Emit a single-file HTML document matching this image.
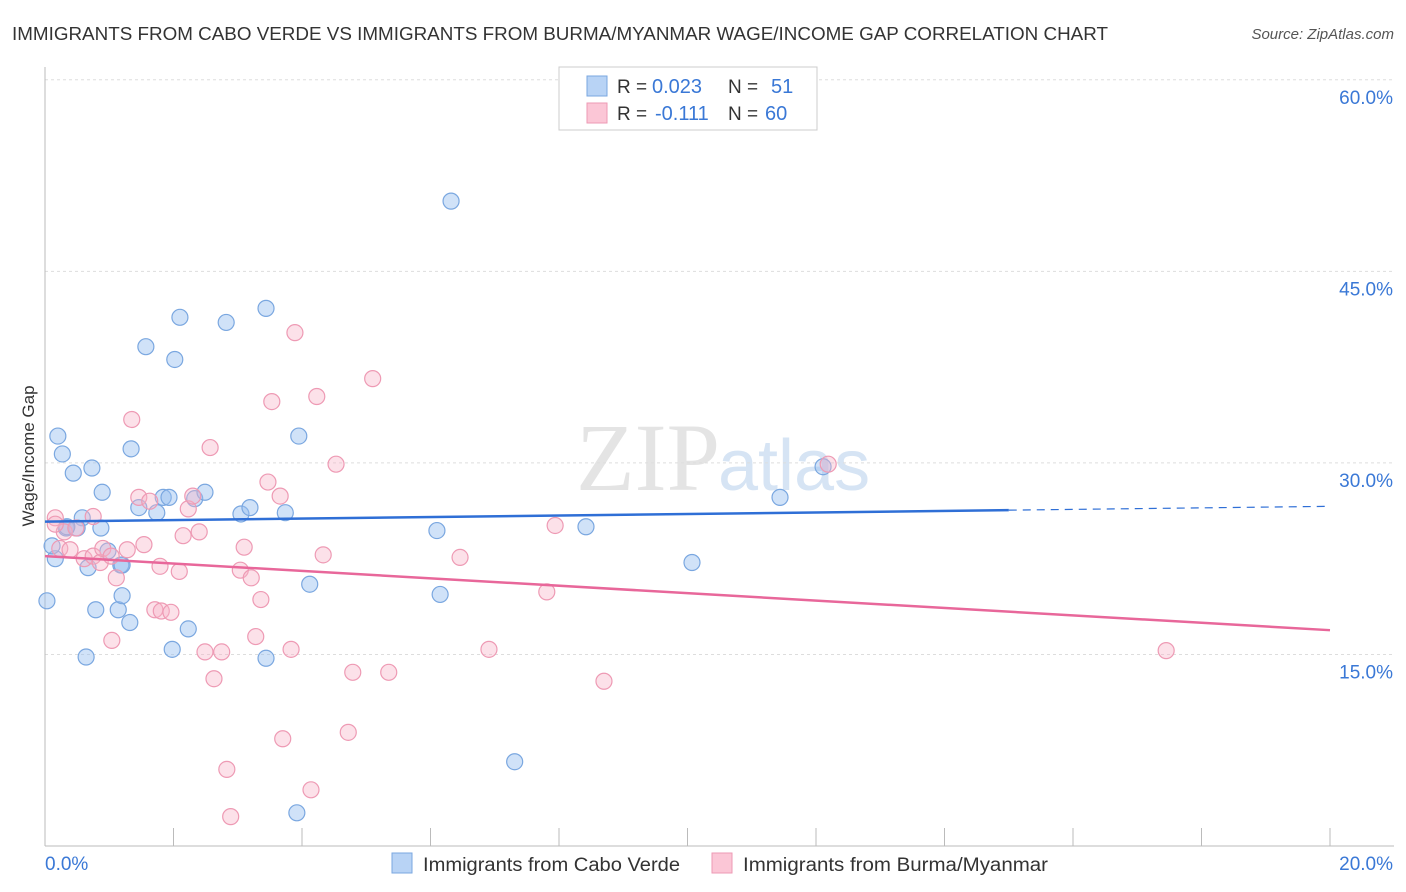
<!DOCTYPE html>
<html><head><meta charset="utf-8"><style>
body{margin:0;background:#fff;font-family:"Liberation Sans",sans-serif;}
svg{display:block}
</style></head><body>
<svg width="1406" height="892">
<text x="12" y="40" font-size="18" fill="#333" textLength="1096" lengthAdjust="spacingAndGlyphs">IMMIGRANTS FROM CABO VERDE VS IMMIGRANTS FROM BURMA/MYANMAR WAGE/INCOME GAP CORRELATION CHART</text>
<text x="1394" y="39" font-size="15" fill="#555" font-style="italic" text-anchor="end">Source: ZipAtlas.com</text>
<text x="720" y="490" font-size="96" fill="#e4e4e4" text-anchor="end" font-family="Liberation Serif">ZIP</text>
<text x="718" y="490" font-size="72" fill="#d6e4f4">atlas</text>
<g id="grid"></g><g id="axes"></g><g id="pts"></g><g id="lines"></g>
<text transform="translate(34,456) rotate(-90)" font-size="17" fill="#333" text-anchor="middle">Wage/Income Gap</text>
<g>
<rect x="559" y="67" width="258" height="63" fill="#fff" stroke="#ccc"/>
<rect x="587" y="76" width="20" height="20" fill="#b8d3f5" stroke="#7aa7e0"/>
<rect x="587" y="103" width="20" height="20" fill="#fbc6d6" stroke="#ee9ab4"/>
<text x="617" y="93" font-size="19" fill="#333">R =</text>
<text x="652" y="93" font-size="20" fill="#3a78d6">0.023</text>
<text x="728" y="93" font-size="19" fill="#333">N =</text>
<text x="771" y="93" font-size="20" fill="#3a78d6">51</text>
<text x="617" y="120" font-size="19" fill="#333">R =</text>
<text x="655" y="120" font-size="20" fill="#3a78d6">-0.111</text>
<text x="728" y="120" font-size="19" fill="#333">N =</text>
<text x="765" y="120" font-size="20" fill="#3a78d6">60</text>
</g>
<g>
<rect x="392" y="853" width="20" height="20" fill="#b8d3f5" stroke="#7aa7e0"/>
<text x="423" y="871" font-size="19" fill="#333" textLength="257" lengthAdjust="spacingAndGlyphs">Immigrants from Cabo Verde</text>
<rect x="712" y="853" width="20" height="20" fill="#fbc6d6" stroke="#ee9ab4"/>
<text x="743" y="871" font-size="19" fill="#333" textLength="305" lengthAdjust="spacingAndGlyphs">Immigrants from Burma/Myanmar</text>
</g>
</svg>
<script>
const blueX=[0.03,0.16,0.11,0.2,0.27,0.44,0.58,0.73,0.89,0.87,0.67,0.79,0.64,0.5,0.33,1.14,1.2,1.32,1.18,1.34,1.46,1.57,1.74,1.84,1.93,2.02,2.1,1.98,2.23,2.33,2.49,2.82,3.05,3.19,3.44,3.44,3.74,3.95,3.92,4.12,6.1,6.15,6.32,7.31,8.42,10.07,11.44,12.11,0.34,0.98,1.2];
const blueY=[19.2,22.5,23.5,32.1,30.7,29.2,25.7,29.6,27.7,24.9,21.8,18.5,14.8,24.9,24.9,18.5,19.6,17.5,22.0,31.1,26.5,39.1,26.1,27.3,27.3,38.1,41.4,15.4,17.0,27.2,27.7,41.0,26.0,26.5,42.1,14.7,26.1,32.1,2.6,20.5,24.7,19.7,50.5,6.6,25.0,22.2,27.3,29.7,25.0,23.1,22.0];
const pinkX=[0.16,0.23,0.3,0.39,0.48,0.61,0.75,0.86,0.9,1.03,1.11,1.04,1.28,1.35,1.46,1.54,1.63,1.71,1.79,1.81,1.96,2.09,2.15,2.23,2.3,2.4,2.57,2.49,2.63,2.75,2.83,2.89,3.04,3.1,3.21,3.28,3.36,3.53,3.47,3.66,3.7,3.83,3.89,4.14,4.23,4.33,4.53,4.72,4.79,5.1,5.35,6.46,6.91,7.81,7.94,8.7,12.19,17.45,0.16,0.75];
const pinkY=[25.7,23.3,24.6,23.2,24.9,22.5,22.7,22.2,23.3,22.7,21.0,16.1,23.2,33.4,27.3,23.6,27.0,18.5,21.9,18.4,18.3,21.5,24.3,26.4,27.4,24.6,31.2,15.2,13.1,15.2,6.0,2.3,21.6,23.4,21.0,16.4,19.3,34.8,28.5,27.4,8.4,15.4,40.2,4.4,35.2,22.8,29.9,8.9,13.6,36.6,13.6,22.6,15.4,19.9,25.1,12.9,29.9,15.3,25.2,25.8];
const yTicks=[15,30,45,60];
const ns="http://www.w3.org/2000/svg";
const X=v=>45+v*64.25, Y=v=>846-v*12.77;
function mk(p,t,a){const e=document.createElementNS(ns,t);for(const k in a)e.setAttribute(k,a[k]);document.getElementById(p).appendChild(e);return e;}
yTicks.forEach(t=>{
 const l=mk('grid','line',{x1:45,x2:1394,y1:Y(t),y2:Y(t),stroke:'#ddd','stroke-dasharray':'3,3'});
 
 
 const tx=mk('axes','text',{x:1393,y:Y(t)+24,'font-size':19,fill:'#3a78d6','text-anchor':'end'});
 tx.textContent=t.toFixed(1)+'%';
 
 
});
mk('axes','line',{x1:45,x2:45,y1:67,y2:846,stroke:'#bbb'});
mk('axes','line',{x1:45,x2:1394,y1:846,y2:846,stroke:'#bbb'});
for(let i=0;i<=10;i++){mk('axes','line',{x1:X(i*2),x2:X(i*2),y1:828,y2:846,stroke:'#bbb'});}
let t0=mk('axes','text',{x:45,y:870,'font-size':19,fill:'#3a78d6'});t0.textContent='0.0%';


let t1=mk('axes','text',{x:1393,y:870,'font-size':19,fill:'#3a78d6','text-anchor':'end'});t1.textContent='20.0%';


blueX.forEach((x,i)=>{const c=mk('pts','circle',{cx:X(x),cy:Y(blueY[i]),r:8,fill:'rgba(150,190,240,0.45)',stroke:'#7aa7e0','stroke-width':1.2});

});
pinkX.forEach((x,i)=>{const c=mk('pts','circle',{cx:X(x),cy:Y(pinkY[i]),r:8,fill:'rgba(248,180,200,0.4)',stroke:'#ee9ab4','stroke-width':1.2});

});
const bf=[25.4,0.06], pf=[22.7,-0.29];
let bl=mk('lines','line',{x1:X(0),y1:Y(bf[0]),x2:X(15),y2:Y(bf[0]+bf[1]*15),stroke:'#2f6fd6','stroke-width':2.5});


let bd=mk('lines','line',{x1:X(15),y1:Y(bf[0]+bf[1]*15),x2:X(20),y2:Y(bf[0]+bf[1]*20),stroke:'#2f6fd6','stroke-width':1.2,'stroke-dasharray':'8,6'});


let pl=mk('lines','line',{x1:X(0),y1:Y(pf[0]),x2:X(20),y2:Y(pf[0]+pf[1]*20),stroke:'#e8679a','stroke-width':2.5});


</script>
</body></html>
